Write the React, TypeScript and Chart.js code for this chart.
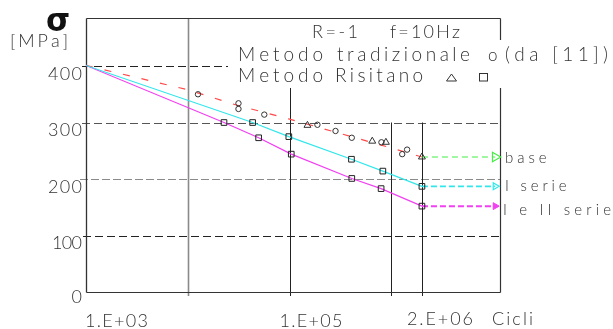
import React, { useEffect, useRef } from "react";
import { Chart, registerables } from "chart.js";

Chart.register(...registerables);

// ---- axis ranges & ticks ----
const X_MIN = 1e3;
const X_MAX = 1.17e7;
const Y_MIN = 0;
const Y_MAX = 485;
const Y_TICKS = [0, 100, 200, 300, 400];
const X_TICK_VALUES = [1e3, 1e5, 2e6];
const X_TICK_LABELS = ["1.E+03", "1.E+05", "2.E+06"];
const X_AXIS_TITLE = "Cicli";
const Y_AXIS_SYMBOL = "σ";
const Y_AXIS_UNIT = "[MPa]";

// ---- data ----
// traditional method fit (red dashed)
const RED_N = [1e3, 1e4, 3e4, 1e5, 1e6, 2e6];
const RED_S = [401, 358, 331, 306, 255, 239];
// traditional test points (circles)
const CIRCLE_N = [1.26e4, 3.15e4, 3.15e4, 5.65e4, 1.88e5, 2.83e5, 4.09e5, 8.0e5, 1.28e6, 1.43e6];
const CIRCLE_S = [350, 334, 324, 314, 296, 285, 273, 265, 244, 252];
// Risitano method (triangles)
const TRI_N = [1.5e5, 6.5e5, 8.85e5, 2e6];
const TRI_S = [295, 267, 265, 239];
// I serie (cyan, squares)
const CYAN_N = [1e3, 4.34e4, 9.84e4, 4.06e5, 8.26e5, 2e6];
const CYAN_S = [401, 300, 275, 235, 214, 187];
// I e II serie (magenta, squares)
const MAG_N = [1e3, 2.27e4, 4.97e4, 1.04e5, 4.09e5, 7.94e5, 2e6];
const MAG_S = [401, 300, 273, 244, 201, 183, 152];
// fatigue-limit extensions
const EXT_N = [2e6, 1.05e7];
const BASE_S = 239;
const ISERIE_S = 187;
const IIISERIE_S = 152;
const EXT_LABELS = ["base", "I serie", "I e II serie"];

const TITLE_LINE = ["R=-1", "f=10Hz"];
const LEGEND_TRAD = ["Metodo", "tradizionale", "o", "(da [11])"];
const LEGEND_RIS = ["Metodo", "Risitano"];

const pts = (xs: number[], ys: number[]) => xs.map((x, i) => ({ x, y: ys[i] }));

const TEXT_COLOR = "#333";
const FONT = "300 {S}px Lato, 'DejaVu Sans', sans-serif";
const f = (size: number) => FONT.replace("{S}", String(size));

function drawSpaced(
  ctx: CanvasRenderingContext2D,
  text: string,
  x: number,
  y: number,
  font: string,
  width: number | null,
  align: "left" | "right" = "left",
  color = TEXT_COLOR
) {
  ctx.save();
  ctx.font = font;
  ctx.fillStyle = color;
  ctx.textAlign = "left";
  ctx.textBaseline = "alphabetic";
  const chars = Array.from(text);
  const widths = chars.map((c) => ctx.measureText(c).width);
  const natural = widths.reduce((a, b) => a + b, 0);
  const extra = width != null && chars.length > 1 ? (width - natural) / (chars.length - 1) : 0;
  const total = natural + extra * (chars.length - 1);
  let cx = align === "right" ? x - total : x;
  chars.forEach((c, i) => {
    ctx.fillText(c, cx, y);
    cx += widths[i] + extra;
  });
  ctx.restore();
}

function line(ctx: CanvasRenderingContext2D, x1: number, y1: number, x2: number, y2: number, color: string, w = 1, dash: number[] = []) {
  ctx.save();
  ctx.strokeStyle = color;
  ctx.lineWidth = w;
  ctx.setLineDash(dash);
  ctx.beginPath();
  ctx.moveTo(x1, y1);
  ctx.lineTo(x2, y2);
  ctx.stroke();
  ctx.restore();
}

const decorPlugin = {
  id: "decor",
  beforeDatasetsDraw(chart: any) {
    const ctx: CanvasRenderingContext2D = chart.ctx;
    const { left, right, top, bottom } = chart.chartArea;
    const xs = chart.scales.x;
    const ys = chart.scales.y;
    const r = (v: number) => Math.round(v) + 0.5;

    // horizontal grid lines
    const gridStyles: Record<number, { color: string; from: number; to: number; dash: number[] }> = {
      100: { color: "#222", from: left - 3, to: right, dash: [8, 4] },
      200: { color: "#8a8a8a", from: left - 6, to: right, dash: [8, 3] },
      300: { color: "#555", from: left - 4, to: right, dash: [8, 4] },
      400: { color: "#222", from: left - 4, to: 228, dash: [8, 4] },
    };
    Y_TICKS.forEach((v) => {
      const st = gridStyles[v];
      if (!st) return;
      const py = r(ys.getPixelForValue(v));
      line(ctx, st.from, py, st.to, py, st.color, 1, st.dash);
    });

    // vertical lines
    const y300 = ys.getPixelForValue(300);
    const vlines = [
      { v: 1e4, from: top, color: "#8a8a8a", w: 1.6 },
      { v: 1e5, from: 88, color: "#222", w: 1 },
      { v: 1e6, from: y300, color: "#222", w: 1 },
      { v: 2e6, from: y300, color: "#222", w: 1 },
    ];
    vlines.forEach((l) => {
      const px = r(xs.getPixelForValue(l.v));
      line(ctx, px, l.from, px, bottom + 4, l.color, l.w);
    });

    // frame
    const fc = "#333";
    line(ctx, r(left), r(top), r(left), r(bottom), fc, 1.3);
    line(ctx, r(left), r(bottom), r(right), r(bottom), fc, 1.2);
    line(ctx, r(left), r(top), r(right), r(top), fc, 1.2);
    line(ctx, r(right), r(top), r(right), 40, fc, 1.2);
    line(ctx, r(right), 88, r(right), r(bottom), fc, 1.2);
  },
  afterDatasetsDraw(chart: any) {
    const ctx: CanvasRenderingContext2D = chart.ctx;
    const { left, right } = chart.chartArea;
    const xs = chart.scales.x;
    const ys = chart.scales.y;

    // y axis symbol and unit
    drawSpaced(ctx, Y_AXIS_SYMBOL, 46, 31, "bold 31px 'DejaVu Sans'", null, "left", "#111");
    drawSpaced(ctx, Y_AXIS_UNIT, 10, 47, f(18), 58);

    // y tick labels
    Y_TICKS.forEach((v) => {
      const py = ys.getPixelForValue(v);
      const w = v === 0 ? null : v === 100 ? 30 : 34;
      drawSpaced(ctx, String(v), left - 4, py + (v === 0 ? 11 : 13.5), f(18), w, "right");
    });

    // x tick labels
    const xOff = [-1, -10, -15];
    const xBase = [327, 327, 325];
    const xW = [63, 63, 66];
    X_TICK_VALUES.forEach((v, i) => {
      const px = xs.getPixelForValue(v);
      drawSpaced(ctx, X_TICK_LABELS[i], px + xOff[i], xBase[i], f(18), xW[i]);
    });
    drawSpaced(ctx, X_AXIS_TITLE, right - 8, 325, f(18), 41);

    // legend block
    drawSpaced(ctx, TITLE_LINE[0], 312, 38, f(18), 46);
    drawSpaced(ctx, TITLE_LINE[1], 390, 38, f(18), 70);
    const tradX = [238, 337, 488, 505];
    const tradW = [85, 133, null, 103];
    LEGEND_TRAD.forEach((t, i) => drawSpaced(ctx, t, tradX[i], 61, i === 2 ? f(17) : f(19), tradW[i]));
    const risX = [238, 335];
    const risW = [85, 88];
    LEGEND_RIS.forEach((t, i) => drawSpaced(ctx, t, risX[i], 82, f(19), risW[i]));
    ctx.save();
    ctx.strokeStyle = TEXT_COLOR;
    ctx.lineWidth = 1;
    ctx.beginPath();
    ctx.moveTo(446.5, 81);
    ctx.lineTo(456.5, 81);
    ctx.lineTo(451.5, 74);
    ctx.closePath();
    ctx.stroke();
    ctx.strokeRect(479.5, 73.5, 8, 7.5);
    ctx.restore();

    // right-hand labels
    const extVals = [BASE_S, ISERIE_S, IIISERIE_S];
    const extOff = [6, 4.5, 8.5];
    const extW = [41.5, 61.5, 108];
    const extX = [505, 505, 503];
    extVals.forEach((v, i) => {
      const py = ys.getPixelForValue(v);
      drawSpaced(ctx, EXT_LABELS[i], extX[i], py + extOff[i], f(15), extW[i]);
    });
  },
};

export default function App() {
  const ref = useRef<HTMLCanvasElement | null>(null);

  useEffect(() => {
    document.body.style.margin = "0";
    const canvas = ref.current!;
    const ctx = canvas.getContext("2d")!;

    const squareRadius = (c: any) => (c.dataIndex === 0 ? 0 : 4);

    const chart = new Chart(ctx, {
      type: "scatter",
      data: {
        datasets: [
          {
            label: "circles",
            data: pts(CIRCLE_N, CIRCLE_S),
            showLine: false,
            pointStyle: "circle",
            pointRadius: 2.7,
            borderColor: "#333",
            backgroundColor: "rgba(0,0,0,0)",
            borderWidth: 1,
            order: 0,
          },
          {
            label: "triangles",
            data: pts(TRI_N, TRI_S),
            showLine: false,
            pointStyle: "triangle",
            pointRadius: 4,
            borderColor: "#333",
            backgroundColor: "rgba(0,0,0,0)",
            borderWidth: 1,
            order: 0,
          },
          {
            label: "I serie",
            data: pts(CYAN_N, CYAN_S),
            showLine: true,
            borderColor: "#33e6ea",
            borderWidth: 1.2,
            pointStyle: "rect",
            pointRadius: squareRadius,
            pointBorderColor: "#222",
            pointBackgroundColor: "rgba(0,0,0,0)",
            pointBorderWidth: 1,
            order: 1,
          },
          {
            label: "I e II serie",
            data: pts(MAG_N, MAG_S),
            showLine: true,
            borderColor: "#f040f0",
            borderWidth: 1.2,
            pointStyle: "rect",
            pointRadius: squareRadius,
            pointBorderColor: "#222",
            pointBackgroundColor: "rgba(0,0,0,0)",
            pointBorderWidth: 1,
            order: 1,
          },
          {
            label: "tradizionale",
            data: pts(RED_N, RED_S),
            showLine: true,
            borderColor: "#ff4a4a",
            borderWidth: 1.2,
            borderDash: [7, 12],
            pointRadius: 0,
            order: 2,
          },
          {
            label: "base",
            data: pts(EXT_N, [BASE_S, BASE_S]),
            showLine: true,
            borderColor: "#44ee44",
            borderWidth: 1.2,
            borderDash: [6, 4],
            pointStyle: "triangle",
            pointRotation: 90,
            pointRadius: (c: any) => (c.dataIndex === 1 ? 5.5 : 0),
            pointBorderColor: "#44ee44",
            pointBackgroundColor: "rgba(0,0,0,0)",
            pointBorderWidth: 1.2,
            clip: false as any,
            order: 3,
          },
          {
            label: "I serie ext",
            data: pts(EXT_N, [ISERIE_S, ISERIE_S]),
            showLine: true,
            borderColor: "#33e6ea",
            borderWidth: 1.6,
            borderDash: [6, 3],
            pointStyle: "triangle",
            pointRotation: 90,
            pointRadius: (c: any) => (c.dataIndex === 1 ? 4 : 0),
            pointBorderColor: "#33e6ea",
            pointBackgroundColor: "rgba(0,0,0,0)",
            pointBorderWidth: 1.2,
            clip: false as any,
            order: 3,
          },
          {
            label: "I e II serie ext",
            data: pts(EXT_N, [IIISERIE_S, IIISERIE_S]),
            showLine: true,
            borderColor: "#f040f0",
            borderWidth: 2,
            borderDash: [6, 3],
            pointStyle: "triangle",
            pointRotation: 90,
            pointRadius: (c: any) => (c.dataIndex === 1 ? 4 : 0),
            pointBorderColor: "#f040f0",
            pointBackgroundColor: "#f040f0",
            pointBorderWidth: 1,
            clip: false as any,
            order: 3,
          },
        ],
      },
      options: {
        animation: false,
        responsive: false,
        devicePixelRatio: 1,
        layout: { padding: { left: 86, right: 113, top: 18, bottom: 37 } },
        plugins: { legend: { display: false }, tooltip: { enabled: false } },
        scales: {
          x: { type: "logarithmic", min: X_MIN, max: X_MAX, display: false },
          y: { type: "linear", min: Y_MIN, max: Y_MAX, display: false },
        },
      },
      plugins: [decorPlugin],
    });
    return () => chart.destroy();
  }, []);

  return (
    <div style={{ position: "fixed", left: 0, top: 0, width: 613, height: 329, background: "#fff" }}>
      <canvas ref={ref} width={613} height={329} style={{ display: "block", width: 613, height: 329 }} />
    </div>
  );
}
